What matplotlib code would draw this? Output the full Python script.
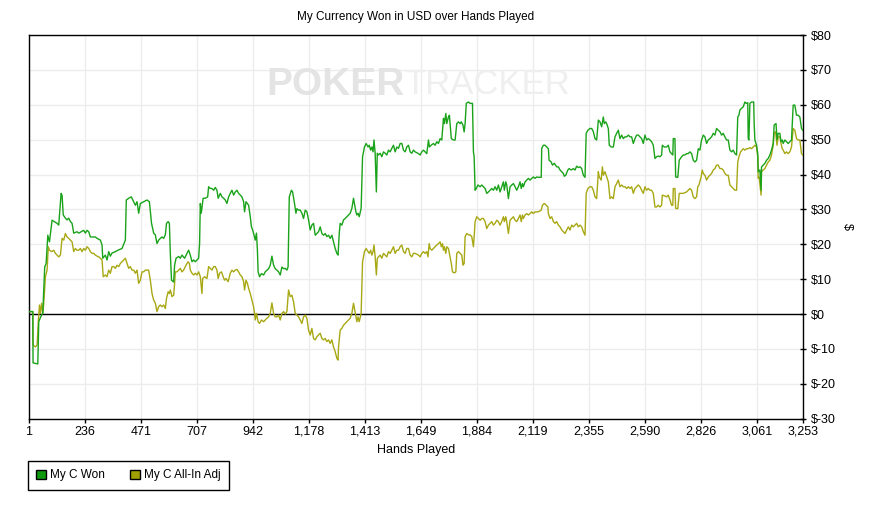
import matplotlib
matplotlib.use("Agg")
import matplotlib.pyplot as plt
from matplotlib.patches import Patch
from matplotlib.ticker import FuncFormatter

plt.rcParams['font.family'] = ['Liberation Sans', 'DejaVu Sans']

title = "My Currency Won in USD over Hands Played"
x_label = "Hands Played"
y_label = "$"
series_names = ["My C Won", "My C All-In Adj"]
x_ticks = [1, 236, 471, 707, 942, 1178, 1413, 1649, 1884, 2119, 2355, 2590, 2826, 3061, 3253]
y_ticks = [-30, -20, -10, 0, 10, 20, 30, 40, 50, 60, 70, 80]

won_hands = [1, 17, 18, 38, 42, 49, 59, 67, 73, 80, 87, 98, 119, 126, 136, 140, 145, 154, 161, 168,
             175, 182, 189, 203, 210, 231, 238, 245, 252, 259, 280, 287, 301, 308, 311, 322, 329, 336,
             343, 350, 364, 378, 392, 406, 410, 420, 431, 441, 448, 455, 462, 469, 483, 497, 507, 516,
             525, 532, 539, 546, 553, 560, 567, 574, 579, 586, 591, 595, 600, 609, 613, 619, 630, 637,
             644, 655, 665, 672, 679, 686, 693, 700, 707, 714, 718, 721, 725, 733, 742, 752, 756, 763,
             770, 777, 784, 791, 796, 805, 812, 819, 826, 833, 840, 847, 854, 861, 868, 875, 882, 889,
             896, 903, 907, 913, 924, 931, 936, 941, 947, 952, 957, 961, 964, 970, 978, 987, 994, 1008,
             1015, 1022, 1029, 1036, 1043, 1050, 1057, 1064, 1071, 1078, 1085, 1090, 1092, 1095, 1104,
             1109, 1117, 1123, 1127, 1134, 1141, 1148, 1155, 1162, 1169, 1176, 1183, 1190, 1197, 1204,
             1211, 1218, 1225, 1232, 1239, 1246, 1253, 1260, 1267, 1274, 1281, 1288, 1295, 1300, 1305,
             1309, 1316, 1323, 1330, 1337, 1344, 1351, 1358, 1365, 1369, 1375, 1379, 1384, 1389, 1397,
             1403, 1411, 1418, 1426, 1431, 1437, 1442, 1447, 1451, 1456, 1461, 1465, 1470, 1477, 1484,
             1491, 1498, 1505, 1512, 1519, 1526, 1533, 1540, 1547, 1554, 1561, 1568, 1575, 1582, 1589,
             1596, 1603, 1610, 1617, 1624, 1638, 1645, 1652, 1659, 1666, 1673, 1680, 1684, 1691, 1701,
             1708, 1715, 1722, 1729, 1736, 1743, 1747, 1753, 1757, 1764, 1768, 1776, 1785, 1792, 1799,
             1806, 1813, 1818, 1825, 1830, 1834, 1839, 1848, 1855, 1865, 1869, 1872, 1876, 1881, 1888,
             1897, 1904, 1911, 1918, 1925, 1932, 1939, 1946, 1953, 1960, 1967, 1974, 1981, 1988, 1995,
             1999, 2005, 2009, 2016, 2023, 2030, 2037, 2044, 2051, 2058, 2065, 2070, 2075, 2079, 2086,
             2093, 2100, 2107, 2114, 2121, 2128, 2135, 2142, 2154, 2156, 2163, 2170, 2177, 2184, 2187,
             2196, 2201, 2209, 2219, 2226, 2233, 2240, 2247, 2251, 2257, 2266, 2271, 2280, 2289, 2296,
             2303, 2310, 2317, 2324, 2331, 2338, 2343, 2350, 2359, 2366, 2373, 2380, 2387, 2394, 2401,
             2408, 2415, 2419, 2425, 2429, 2436, 2440, 2448, 2457, 2464, 2471, 2478, 2485, 2492, 2499,
             2506, 2513, 2520, 2527, 2534, 2541, 2548, 2555, 2562, 2569, 2576, 2583, 2590, 2597, 2604,
             2611, 2618, 2625, 2632, 2639, 2646, 2653, 2660, 2663, 2671, 2681, 2688, 2695, 2702, 2707,
             2709, 2716, 2719, 2728, 2734, 2744, 2751, 2758, 2765, 2772, 2779, 2786, 2793, 2800, 2807,
             2814, 2821, 2828, 2835, 2842, 2849, 2856, 2863, 2870, 2877, 2884, 2891, 2898, 2905, 2912,
             2919, 2926, 2933, 2940, 2947, 2954, 2961, 2968, 2975, 2980, 2985, 2989, 2996, 3003, 3010,
             3015, 3022, 3024, 3027, 3031, 3038, 3047, 3049, 3052, 3059, 3064, 3066, 3073, 3078, 3080,
             3087, 3094, 3101, 3108, 3115, 3122, 3129, 3133, 3141, 3145, 3150, 3157, 3162, 3167, 3171,
             3178, 3185, 3192, 3199, 3206, 3213, 3220, 3227, 3234, 3241, 3248, 3253]
won_usd = [0.7, 0.7, -14.0, -14.3, -2.2, -1.0, 0.3, 13.5, 14.5, 22.6, 20.7, 26.9, 26.0, 25.5, 34.6, 34.0,
           28.4, 27.5, 27.0, 27.5, 26.5, 26.0, 23.2, 23.6, 23.2, 24.0, 23.2, 24.0, 23.6, 22.1, 22.1,
           21.7, 21.2, 19.8, 16.0, 16.9, 15.5, 17.9, 16.6, 17.5, 17.9, 18.4, 18.8, 21.2, 32.7, 33.2,
           33.6, 32.2, 31.2, 32.2, 28.9, 31.7, 32.2, 32.7, 32.2, 26.0, 23.2, 22.7, 20.2, 21.2, 21.7,
           22.1, 21.7, 22.7, 26.0, 26.5, 26.0, 17.4, 9.7, 9.2, 14.0, 16.0, 16.5, 16.0, 16.9, 16.0, 17.4,
           18.3, 16.9, 15.0, 15.5, 15.0, 15.5, 16.0, 20.2, 31.7, 28.9, 33.2, 33.2, 33.6, 36.5, 36.0,
           36.0, 35.5, 36.3, 35.5, 33.2, 34.6, 33.6, 33.2, 32.7, 31.7, 33.6, 34.6, 35.5, 34.1, 35.0,
           35.5, 34.6, 34.1, 33.6, 32.2, 29.3, 32.2, 31.2, 27.9, 25.0, 24.1, 22.6, 21.2, 23.2, 18.4,
           12.1, 10.7, 11.6, 11.2, 12.1, 13.0, 14.0, 16.6, 14.0, 13.0, 12.6, 12.1, 11.2, 13.5, 13.0,
           13.1, 12.6, 13.5, 22.1, 33.6, 35.5, 35.0, 31.7, 28.9, 30.2, 29.8, 29.8, 28.9, 27.4, 29.8,
           29.3, 27.0, 24.1, 25.5, 26.0, 22.6, 23.1, 23.6, 25.0, 23.1, 22.6, 23.1, 22.2, 22.6, 21.7,
           22.6, 20.7, 18.8, 17.4, 16.9, 23.1, 26.0, 25.5, 27.0, 27.4, 27.9, 28.4, 28.9, 30.3, 33.2,
           31.7, 29.3, 28.4, 28.9, 27.9, 30.3, 45.1, 47.9, 48.9, 47.9, 48.4, 47.0, 47.9, 46.5, 49.9,
           46.1, 35.0, 46.1, 45.6, 46.1, 45.1, 46.5, 46.1, 45.6, 47.0, 46.5, 47.5, 48.4, 46.5, 47.9,
           47.5, 48.9, 48.9, 47.0, 46.5, 47.9, 48.4, 46.5, 46.1, 47.0, 46.5, 46.0, 45.6, 46.5, 47.0,
           46.5, 46.0, 49.9, 47.9, 48.4, 48.9, 48.4, 49.4, 48.9, 50.3, 49.9, 56.1, 54.6, 57.5, 54.6,
           56.5, 57.0, 50.3, 49.9, 49.9, 54.6, 55.1, 54.6, 55.1, 54.2, 52.2, 54.6, 60.4, 60.8, 60.4,
           60.4, 46.5, 45.1, 35.5, 36.0, 37.0, 36.5, 37.0, 36.5, 36.0, 34.6, 35.0, 35.5, 36.0, 35.5,
           36.5, 35.5, 37.0, 35.0, 36.5, 37.9, 35.5, 37.9, 37.0, 33.1, 36.5, 37.0, 37.4, 36.5, 35.5,
           36.5, 37.9, 36.0, 37.4, 36.5, 37.9, 38.4, 38.9, 38.4, 38.9, 39.3, 38.9, 39.3, 39.2, 39.2,
           47.5, 48.4, 48.4, 47.9, 47.4, 44.1, 43.6, 42.7, 43.2, 42.2, 42.2, 41.3, 40.8, 40.3, 39.5,
           39.8, 41.3, 41.7, 41.3, 41.7, 41.3, 42.4, 42.0, 42.2, 41.7, 39.8, 39.2, 51.8, 52.7, 53.2,
           53.2, 52.3, 50.3, 49.9, 55.6, 55.1, 53.7, 56.5, 54.6, 55.1, 54.6, 53.2, 48.4, 47.9, 47.9,
           50.8, 51.8, 52.7, 50.3, 51.3, 50.3, 50.8, 50.8, 51.3, 50.8, 50.8, 48.9, 50.3, 51.3, 51.3,
           50.8, 50.3, 48.9, 51.3, 49.9, 50.3, 49.9, 49.4, 48.4, 44.6, 45.1, 45.3, 45.1, 45.6, 48.4,
           47.9, 47.9, 48.4, 46.5, 46.0, 45.6, 50.3, 50.3, 39.3, 39.2, 44.1, 45.1, 45.6, 45.6, 46.0,
           46.0, 46.5, 46.0, 44.1, 43.6, 44.1, 47.4, 47.0, 49.9, 51.3, 50.8, 48.9, 49.9, 50.3, 50.8,
           51.8, 51.3, 53.2, 52.7, 52.3, 51.3, 51.8, 50.8, 49.9, 49.9, 47.0, 46.5, 47.0, 46.0, 45.6,
           56.5, 57.0, 58.5, 59.0, 59.4, 60.8, 60.4, 60.6, 50.3, 49.9, 60.4, 60.8, 60.8, 54.6, 49.9,
           48.4, 46.0, 40.8, 41.3, 35.5, 42.2, 42.7, 43.2, 44.1, 44.6, 45.6, 47.0, 48.9, 54.2, 54.6,
           49.9, 51.8, 51.8, 49.4, 49.9, 48.9, 49.9, 49.4, 48.9, 49.4, 49.9, 59.9, 59.9, 57.0, 57.0,
           56.5, 53.2, 52.7]

adj_hands = [1, 17, 18, 28, 35, 40, 45, 49, 54, 59, 63, 70, 77, 82, 87, 96, 105, 112, 119, 126, 133,
             140, 147, 154, 161, 168, 175, 182, 189, 196, 203, 210, 217, 224, 231, 238, 245, 252, 259,
             266, 273, 280, 287, 294, 301, 308, 313, 322, 329, 336, 343, 350, 357, 364, 371, 378, 385,
             392, 399, 406, 413, 420, 427, 434, 441, 448, 455, 462, 469, 476, 483, 490, 504, 511, 518,
             525, 532, 539, 546, 553, 560, 567, 574, 579, 586, 591, 595, 602, 609, 613, 616, 623, 630,
             637, 644, 651, 658, 665, 670, 675, 679, 686, 693, 700, 707, 714, 721, 728, 731, 739, 749,
             756, 763, 770, 777, 784, 791, 796, 802, 810, 817, 823, 829, 838, 843, 847, 854, 861, 868,
             875, 882, 889, 896, 903, 907, 913, 919, 924, 931, 938, 945, 949, 952, 957, 964, 970, 978,
             987, 994, 1001, 1008, 1015, 1022, 1029, 1036, 1043, 1050, 1057, 1064, 1071, 1078, 1085,
             1092, 1099, 1106, 1113, 1120, 1127, 1134, 1141, 1148, 1155, 1162, 1169, 1176, 1183, 1190,
             1197, 1204, 1211, 1218, 1225, 1232, 1239, 1246, 1253, 1260, 1267, 1274, 1281, 1288, 1295,
             1300, 1302, 1309, 1316, 1323, 1330, 1337, 1344, 1351, 1358, 1365, 1369, 1375, 1379, 1384,
             1389, 1397, 1403, 1411, 1418, 1426, 1431, 1437, 1442, 1447, 1451, 1456, 1461, 1465, 1470,
             1477, 1484, 1491, 1498, 1505, 1512, 1519, 1526, 1533, 1540, 1547, 1554, 1561, 1568, 1575,
             1582, 1589, 1596, 1603, 1610, 1617, 1624, 1638, 1645, 1652, 1659, 1666, 1673, 1678, 1683,
             1687, 1694, 1701, 1708, 1715, 1722, 1729, 1734, 1739, 1743, 1747, 1753, 1757, 1764, 1768,
             1776, 1781, 1789, 1795, 1799, 1806, 1813, 1820, 1825, 1830, 1834, 1841, 1848, 1855, 1862,
             1869, 1873, 1876, 1883, 1890, 1897, 1904, 1911, 1918, 1925, 1932, 1939, 1946, 1953, 1960,
             1967, 1974, 1981, 1988, 1995, 1999, 2005, 2009, 2016, 2023, 2030, 2037, 2044, 2051, 2058,
             2065, 2070, 2075, 2079, 2086, 2093, 2100, 2107, 2114, 2121, 2128, 2135, 2142, 2154, 2159,
             2167, 2175, 2182, 2184, 2191, 2198, 2205, 2212, 2219, 2226, 2233, 2240, 2247, 2254, 2261,
             2268, 2275, 2282, 2289, 2296, 2303, 2310, 2317, 2324, 2331, 2338, 2343, 2350, 2359, 2366,
             2373, 2380, 2387, 2394, 2398, 2406, 2411, 2415, 2422, 2429, 2436, 2443, 2450, 2457, 2464,
             2471, 2478, 2485, 2492, 2499, 2506, 2513, 2520, 2527, 2534, 2541, 2548, 2555, 2562, 2569,
             2576, 2583, 2590, 2597, 2604, 2611, 2618, 2625, 2632, 2639, 2646, 2653, 2660, 2663, 2671,
             2681, 2688, 2695, 2702, 2707, 2709, 2716, 2719, 2728, 2734, 2744, 2751, 2758, 2765, 2772,
             2779, 2786, 2793, 2800, 2807, 2812, 2817, 2826, 2831, 2835, 2842, 2849, 2856, 2863, 2870,
             2877, 2884, 2891, 2898, 2905, 2912, 2919, 2926, 2933, 2940, 2947, 2954, 2961, 2968, 2975,
             2980, 2985, 2992, 3003, 3010, 3017, 3024, 3031, 3038, 3045, 3052, 3059, 3064, 3066, 3070,
             3078, 3080, 3087, 3094, 3101, 3108, 3115, 3122, 3129, 3133, 3139, 3145, 3150, 3157, 3162,
             3167, 3171, 3178, 3185, 3192, 3199, 3206, 3213, 3220, 3227, 3234, 3241, 3248, 3253]
adj_usd = [0.7, 0.7, -8.9, -9.4, -8.9, -2.2, 2.6, 0.2, 3.1, 0.2, 3.1, 10.7, 12.6, 19.3, 18.3, 17.9, 18.3,
           17.4, 16.9, 16.4, 16.9, 21.7, 21.2, 23.1, 22.1, 21.7, 21.2, 20.7, 17.9, 18.8, 18.3, 18.3,
           18.8, 17.9, 18.8, 18.3, 19.3, 18.8, 17.9, 17.4, 17.4, 16.9, 16.6, 16.4, 16.0, 15.5, 10.7,
           11.2, 10.7, 12.6, 11.7, 13.6, 13.6, 13.1, 14.0, 13.6, 14.5, 15.0, 15.5, 16.0, 14.5, 13.1,
           13.6, 12.6, 12.6, 11.7, 12.6, 8.8, 9.7, 12.1, 12.1, 12.6, 12.6, 9.7, 5.9, 4.0, 3.1, 0.7,
           2.1, 2.6, 2.1, 2.6, 1.6, 4.5, 6.4, 5.9, 6.9, 5.0, 5.4, 8.8, 12.1, 12.1, 12.6, 13.1, 12.1,
           12.6, 13.6, 14.5, 15.0, 14.5, 12.6, 11.7, 11.2, 11.7, 11.2, 12.1, 10.7, 5.9, 10.2, 10.7,
           10.2, 13.6, 13.1, 12.6, 13.6, 13.6, 12.6, 10.2, 11.7, 12.1, 10.7, 9.7, 10.2, 9.3, 10.7,
           11.7, 12.6, 12.1, 12.6, 12.8, 12.1, 11.2, 10.7, 9.3, 6.9, 9.7, 8.8, 7.4, 5.9, 4.0, 2.1,
           0.2, -1.7, 0.2, -2.2, -2.7, -1.7, -2.2, -1.7, -1.2, -0.8, 0.2, 3.2, 0.2, -0.8, -0.8, -0.3,
           -1.7, 0.2, 0.7, 0.0, 0.7, 6.9, 5.0, 5.4, 3.5, 0.2, -0.3, -0.8, -1.7, -2.7, -0.8, -0.3,
           -1.2, -4.6, -6.0, -4.1, -7.0, -7.4, -6.5, -6.0, -5.5, -7.0, -7.4, -7.0, -7.9, -7.4, -8.4,
           -7.4, -9.4, -10.8, -12.7, -13.2, -9.4, -4.6, -4.1, -3.2, -2.7, -2.2, -1.7, -1.2, 0.2, 3.1,
           1.6, -0.8, -2.2, -0.8, -2.2, 0.2, 15.0, 17.9, 18.8, 17.9, 17.4, 18.3, 16.9, 17.9, 19.8,
           16.4, 11.2, 16.0, 16.4, 16.9, 16.0, 17.4, 16.9, 16.4, 17.9, 17.4, 18.3, 19.3, 17.4, 18.3,
           18.3, 19.3, 19.8, 17.9, 17.4, 18.8, 18.8, 16.9, 16.4, 17.4, 17.4, 16.9, 16.4, 17.4, 17.9,
           17.4, 17.9, 16.4, 20.2, 18.8, 18.3, 18.8, 19.3, 19.8, 20.2, 20.7, 19.3, 20.2, 18.3, 19.3,
           17.4, 19.3, 18.8, 17.4, 14.5, 12.1, 11.8, 12.1, 17.4, 17.9, 17.4, 16.9, 14.0, 14.5, 22.2,
           23.1, 22.7, 22.7, 22.2, 19.3, 23.1, 26.5, 27.9, 27.4, 26.9, 27.4, 27.4, 26.5, 24.5, 25.5,
           26.0, 26.5, 25.5, 26.0, 26.9, 26.5, 25.5, 26.5, 27.9, 26.5, 27.9, 26.5, 23.1, 26.9, 27.4,
           27.9, 26.9, 26.5, 27.4, 28.4, 26.5, 28.4, 27.4, 28.4, 28.8, 28.4, 28.8, 29.3, 28.8, 29.3,
           29.3, 29.3, 29.8, 31.2, 31.7, 31.2, 30.7, 28.8, 27.4, 27.9, 26.5, 26.0, 26.5, 25.5, 25.0,
           24.1, 23.6, 23.1, 24.1, 25.0, 24.1, 25.5, 25.0, 25.5, 26.0, 25.0, 25.5, 25.0, 23.6, 22.6,
           34.6, 36.0, 36.5, 36.5, 35.5, 33.6, 33.1, 40.8, 39.3, 38.4, 42.2, 39.8, 40.8, 39.3, 37.9,
           33.1, 33.6, 33.1, 36.5, 37.4, 38.4, 36.5, 37.0, 36.5, 36.5, 36.0, 36.5, 36.0, 36.5, 34.6,
           36.0, 36.5, 37.0, 36.5, 35.5, 34.6, 36.5, 35.5, 36.0, 35.5, 35.5, 34.6, 30.7, 30.7, 31.2,
           30.7, 31.2, 34.1, 33.9, 33.6, 34.1, 32.7, 31.2, 31.2, 36.0, 36.0, 30.3, 30.2, 34.6, 34.6,
           34.6, 34.8, 35.0, 35.5, 36.0, 35.5, 33.6, 33.1, 33.6, 36.5, 37.0, 39.3, 41.3, 40.3, 39.8,
           38.4, 39.3, 39.8, 40.3, 41.3, 41.7, 42.7, 42.7, 41.7, 41.7, 41.3, 40.3, 39.8, 39.8, 37.0,
           36.5, 36.0, 35.5, 35.5, 43.6, 45.1, 46.5, 47.4, 47.0, 47.4, 47.4, 47.7, 47.4, 47.9, 48.4,
           47.9, 45.1, 38.9, 39.3, 34.1, 40.8, 41.3, 41.7, 42.7, 43.6, 44.1, 45.6, 48.4, 51.8, 52.3,
           48.4, 50.8, 50.8, 48.9, 47.4, 47.0, 46.0, 46.5, 46.0, 46.5, 47.9, 53.2, 52.7, 50.3, 49.9,
           49.9, 46.0, 45.6]

won_color = "#1aa31a"
adj_color = "#a8a814"

fig = plt.figure(figsize=(8.77, 5.24), dpi=100)
ax = fig.add_axes([29 / 877, 1 - 418.7 / 524, (802.7 - 29) / 877, (418.7 - 35) / 524])

# watermark
fig.text(266 / 877, 1 - 85 / 524, "POKER", fontsize=28, fontweight='bold', color='#e4e4e4',
         ha='left', va='center', family=['Liberation Sans', 'DejaVu Sans'], zorder=0)
fig.text(404 / 877, 1 - 85 / 524, "TRACKER", fontsize=25, color='#efefef',
         ha='left', va='center', family=['Liberation Sans', 'DejaVu Sans'], zorder=0)
ax.patch.set_alpha(0)

ax.plot(adj_hands, adj_usd, color=adj_color, lw=1.0, zorder=3)
ax.plot(won_hands, won_usd, color=won_color, lw=1.0, zorder=4)
ax.axhline(0, color='black', lw=1.0, zorder=2)

ax.set_xlim(1, 3253)
ax.set_ylim(-30, 80)
ax.set_xticks(x_ticks)
ax.set_xticklabels([f"{v:,}" for v in x_ticks])
ax.set_yticks(y_ticks)
ax.yaxis.set_major_formatter(FuncFormatter(lambda v, p: f"${int(v)}"))
ax.yaxis.tick_right()
ax.yaxis.set_label_position('right')
ax.tick_params(axis='x', labelsize=9, length=3, width=1, color='black', pad=8.7)
ax.tick_params(axis='y', labelsize=9, length=5, width=1, color='black', pad=3.3, direction='inout')
for lab in ax.get_xticklabels():
    lab.set_verticalalignment('baseline')
ax.grid(True, color='#ececec', lw=1, zorder=0)
ax.set_axisbelow(True)
for s in ax.spines.values():
    s.set_color('black')
    s.set_linewidth(1)

ax.set_xlabel(x_label, fontsize=9, labelpad=4)
ax.set_ylabel(y_label, fontsize=9, rotation=270, labelpad=12)
fig.text(0.5 * (29 + 802.7) / 877, 1 - 17 / 524, title, fontsize=8.5, ha='center', va='center')

handles = [Patch(facecolor="#109a10", edgecolor='black', lw=1, label=series_names[0]),
           Patch(facecolor="#a0a000", edgecolor='black', lw=1, label=series_names[1])]
leg = fig.legend(handles=handles, loc='upper left', bbox_to_anchor=(28 / 877, 1 - 461 / 524),
                 ncol=2, fontsize=8.5, frameon=True, fancybox=False, edgecolor='black',
                 framealpha=1, handlelength=0.8, handleheight=0.8, handletextpad=0.4,
                 columnspacing=2.1, borderpad=0.7, borderaxespad=0)
leg.get_frame().set_linewidth(1)

fig.savefig("out.png", dpi=100)
